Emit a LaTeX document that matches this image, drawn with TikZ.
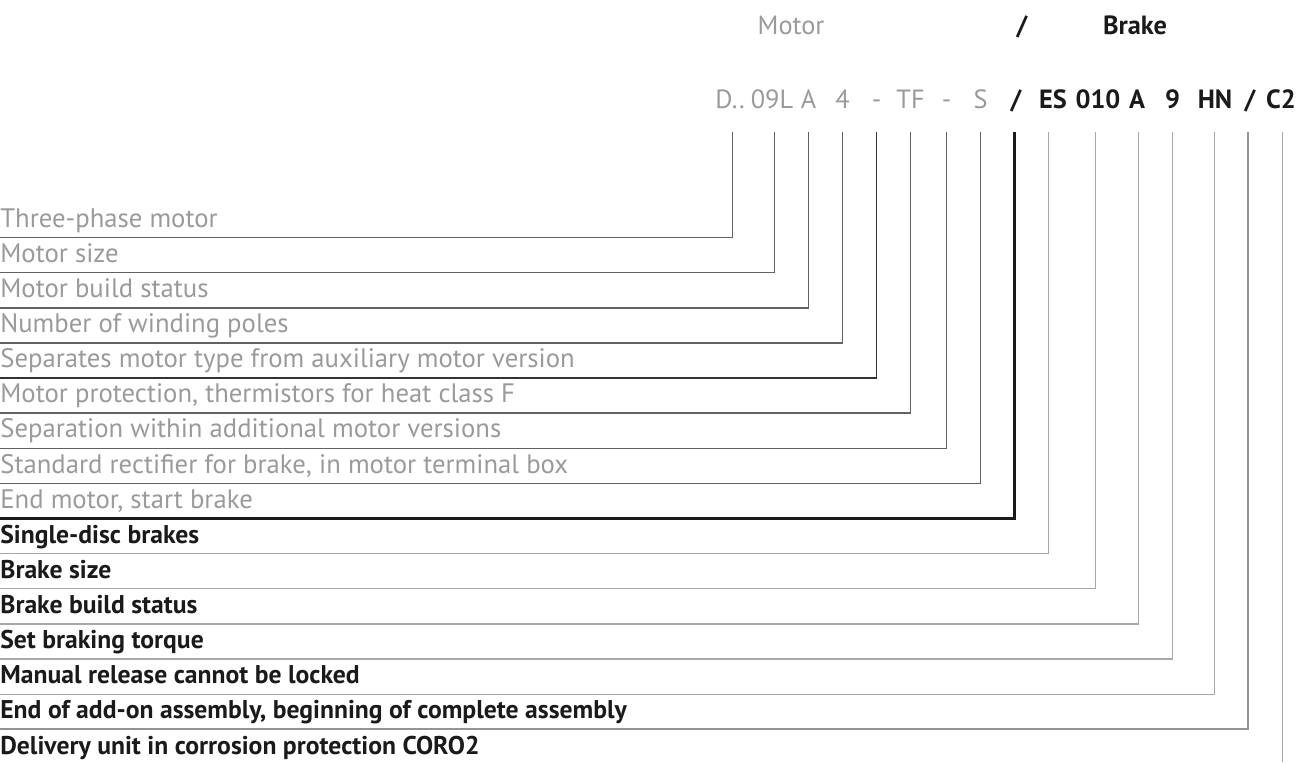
\documentclass[tikz,border=0pt]{standalone}
\usepackage{fontspec}
\setmainfont{PT Sans}
\definecolor{motorgray}{HTML}{9A9A9A}
\definecolor{motorline}{HTML}{626262}
\definecolor{brakeline}{HTML}{A8A8A8}
\definecolor{ink}{HTML}{1A1A1A}
\tikzset{
  codetok/.style={anchor=base,inner sep=0pt,text depth=0pt,font=\fontsize{15}{18}\selectfont},
  mtok/.style={codetok,text=motorgray},
  btok/.style={codetok,text=ink,font=\fontsize{15}{18}\selectfont\bfseries},
  rowlab/.style={anchor=south west,inner sep=0pt,text depth=.2cm},
  mlab/.style={rowlab,text=motorgray,font=\fontsize{15.2}{18}\selectfont},
  blab/.style={rowlab,text=ink,font=\fontsize{14.6}{17}\selectfont\bfseries},
  mline/.style={draw=motorline,line width=.85pt},
  bline/.style={draw=brakeline,line width=.7pt},
}
\begin{document}
\begin{tikzpicture}[x=.02cm,y=-.02cm]
  \useasboundingbox (0,0) rectangle (1306,762);
  % header
  \node[mtok] (hmotor) at (791,34) {Motor};
  \node[btok] (hslash) at (1022,34) {/};
  \node[btok] (hbrake) at (1135,34) {Brake};
  % type designation
  \node[mtok] (t1) at (730,108) {D..};
  \node[mtok] (t2) at (772,108) {09L};
  \node[mtok] (t3) at (808.5,108) {A};
  \node[mtok] (t4) at (842.5,108) {4};
  \node[mtok] (t5) at (876.6,108) {-};
  \node[mtok] (t6) at (910.6,108) {TF};
  \node[mtok] (t7) at (946.6,108) {-};
  \node[mtok] (t8) at (980.6,108) {S};
  \node[btok] (t9) at (1016,108) {/};
  \node[btok] (t10) at (1053,108) {ES};
  \node[btok] (t11) at (1098,108) {010};
  \node[btok] (t12) at (1137,108) {A};
  \node[btok] (t13) at (1172.5,108) {9};
  \node[btok] (t14) at (1215,108) {HN};
  \node[btok] (t15) at (1250,108) {/};
  \node[btok] (t16) at (1281,108) {C2};
  % motor part
  \node[mlab] (l1) at (0,237.5) {Three-phase motor};
  \node[mlab] (l2) at (0,272.6) {Motor size};
  \node[mlab] (l3) at (0,307.8) {Motor build status};
  \node[mlab] (l4) at (0,342.9) {Number of winding poles};
  \node[mlab] (l5) at (0,378.0) {Separates motor type from auxiliary motor version};
  \node[mlab] (l6) at (0,413.2) {Motor protection, thermistors for heat class F};
  \node[mlab] (l7) at (0,448.3) {Separation within additional motor versions};
  \node[mlab] (l8) at (0,483.4) {Standard rectifier for brake, in motor terminal box};
  \node[mlab] (l9) at (0,518.5) {End motor, start brake};
  \draw[mline] (t1.south) ++(2.7,24) |- (l1.south west);
  \draw[mline] (t2.south) ++(2.5,24) |- (l2.south west);
  \draw[mline] (t3.south) ++(0,24) |- (l3.south west);
  \draw[mline] (t4.south) ++(0,24) |- (l4.south west);
  \draw[mline,draw=black!80] (t5.south) ++(0,24) |- (l5.south west);
  \draw[mline] (t6.south) ++(0,24) |- (l6.south west);
  \draw[mline] (t7.south) ++(0,24) |- (l7.south west);
  \draw[mline] (t8.south) ++(0,24) |- (l8.south west);
  \draw[draw=ink,line width=1.4pt] (t9.south) ++(-1.7,24) |- (l9.south west);
  % brake part
  \node[blab] (l10) at (0,553.7) {Single-disc brakes};
  \node[blab] (l11) at (0,588.8) {Brake size};
  \node[blab] (l12) at (0,623.9) {Brake build status};
  \node[blab] (l13) at (0,659.1) {Set braking torque};
  \node[blab] (l14) at (0,694.2) {Manual release cannot be locked};
  \node[blab] (l15) at (0,729.3) {End of add-on assembly, beginning of complete assembly};
  \node[blab] (l16) at (0,764.4) {Delivery unit in corrosion protection CORO2};
  \draw[bline] (t10.south) ++(-4.3,24) |- (l10.south west);
  \draw[bline] (t11.south) ++(-2.5,24) |- (l11.south west);
  \draw[bline] (t12.south) ++(1.4,24) |- (l12.south west);
  \draw[bline] (t13.south) ++(0,24) |- (l13.south west);
  \draw[bline] (t14.south) ++(-.4,24) |- (l14.south west);
  \draw[bline,draw=black!42,line width=1.1pt] (t15.south) ++(-1.7,24) |- (l15.south west);
  \coordinate (cend) at (1282.3,762);
  \draw[bline] (t16.south) ++(1.3,24) -- (cend);
\end{tikzpicture}
\end{document}
